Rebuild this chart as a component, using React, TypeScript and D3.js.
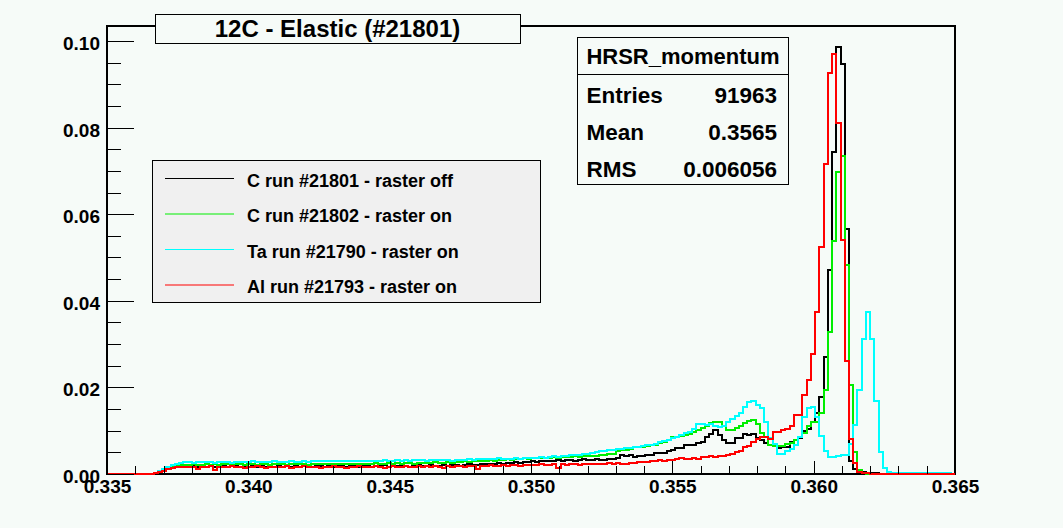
import { useEffect, useRef } from 'react';
import * as d3 from 'd3';

// HRSR momentum, 200 bins between 0.335 and 0.365
const xDomain = [0.335, 0.365];
const yDomain = [0, 0.10346];
const nBins = 200;

const xMajorTicks = [0.335, 0.34, 0.345, 0.35, 0.355, 0.36, 0.365];
const xTickLabels = ['0.335', '0.340', '0.345', '0.350', '0.355', '0.360', '0.365'];
const yMajorTicks = [0, 0.02, 0.04, 0.06, 0.08, 0.1];
const yTickLabels = ['0.00', '0.02', '0.04', '0.06', '0.08', '0.10'];

const legendLabels = [
  'C run #21801 - raster off',
  'C run #21802 - raster on',
  'Ta run #21790 - raster on',
  'Al run #21793 - raster on',
];

const statsTitle = 'HRSR_momentum';
const statsNames = ['Entries', 'Mean', 'RMS'];
const statsValues = ['91963', '0.3565', '0.006056'];

const cRun21801 = [
  0, 0, 0, 0, 0, 0, 0, 0, 0, 0, 0,
  0.0002, 0.0005, 0.0008, 0.0012, 0.0014, 0.0016, 0.0017, 0.0018,
  0.0017, 0.0018, 0.0016, 0.0018, 0.0017, 0.0019, 0.0017, 0.0016, 0.0018, 0.0017, 0.0019, 0.0018, 0.0016, 0.0018, 0.0017, 0.0018, 0.0016, 0.0019, 0.0017, 0.0018, 0.0017,
  0.0018, 0.0017, 0.0019, 0.0016, 0.0018, 0.0017, 0.0019, 0.0018, 0.0016, 0.0018, 0.0019, 0.0017, 0.0018, 0.0016, 0.0019, 0.0018, 0.0017, 0.0019, 0.0018, 0.0017,
  0.0019, 0.0018, 0.0017, 0.0019, 0.0018, 0.0020, 0.0017, 0.0019, 0.0018, 0.0020, 0.0019, 0.0017, 0.0019, 0.0020, 0.0018, 0.0019, 0.0021, 0.0018, 0.0019, 0.0020,
  0.0019, 0.0021, 0.0020, 0.0019, 0.0021, 0.0022, 0.0020, 0.0021, 0.0023, 0.0022, 0.0024, 0.0023, 0.0025, 0.0024, 0.0026, 0.0025, 0.0027, 0.0026, 0.0028, 0.0027,
  0.0029, 0.0028, 0.0030, 0.0029, 0.0031, 0.0030, 0.0032, 0.0031, 0.0033, 0.0032, 0.0031, 0.0033, 0.0034, 0.0032, 0.0033, 0.0035,
  0.0032, 0.0033, 0.0035, 0.0034, 0.0038, 0.0043, 0.0042, 0.0043, 0.0040, 0.0041, 0.0042, 0.0044, 0.0045, 0.0048, 0.0049, 0.0048, 0.0053, 0.0055, 0.0060, 0.0061, 0.0066, 0.0068, 0.0067, 0.0072,
  0.0074, 0.0085, 0.0092, 0.0102, 0.0089, 0.0078, 0.0072, 0.0071, 0.0084, 0.0082, 0.0092, 0.0090, 0.0092, 0.0084, 0.0079, 0.0071, 0.0067, 0.0067, 0.0061, 0.0062,
  0.0063, 0.0073, 0.0078, 0.0082, 0.0100, 0.0104, 0.0120, 0.0140, 0.0177, 0.0270, 0.0471, 0.0744, 0.0985, 0.0947, 0.0565, 0.0030, 0.0012, 0.0006, 0.0004, 0.0003,
  0.0002, 0.0002, 0.0001, 0.0001, 0.0001, 0.0001, 0.0001, 0, 0, 0, 0, 0, 0, 0, 0, 0, 0, 0, 0, 0,
];

const cRun21802 = [
  0, 0, 0, 0, 0, 0, 0, 0, 0, 0, 0,
  0.0002, 0.0005, 0.0009, 0.0013, 0.0016, 0.0019, 0.0020, 0.0021,
  0.0021, 0.0022, 0.0021, 0.0020, 0.0022, 0.0021, 0.0022, 0.0021, 0.0023, 0.0022, 0.0021, 0.0022, 0.0023, 0.0021, 0.0022, 0.0022, 0.0021, 0.0023, 0.0022, 0.0021, 0.0022,
  0.0023, 0.0022, 0.0021, 0.0023, 0.0022, 0.0022, 0.0023, 0.0021, 0.0023, 0.0022, 0.0024, 0.0022, 0.0023, 0.0022, 0.0024, 0.0023, 0.0022, 0.0024, 0.0023, 0.0024,
  0.0023, 0.0024, 0.0023, 0.0025, 0.0024, 0.0023, 0.0025, 0.0024, 0.0025, 0.0024, 0.0026, 0.0025, 0.0024, 0.0026, 0.0025, 0.0026, 0.0025, 0.0027, 0.0026, 0.0025,
  0.0027, 0.0026, 0.0028, 0.0027, 0.0029, 0.0028, 0.0030, 0.0029, 0.0031, 0.0030, 0.0032, 0.0031, 0.0033, 0.0032, 0.0034, 0.0033, 0.0035, 0.0034, 0.0036, 0.0035,
  0.0037, 0.0036, 0.0037, 0.0038, 0.0037, 0.0039, 0.0038, 0.0039, 0.0040, 0.0039, 0.0041, 0.0040, 0.0041, 0.0042, 0.0041, 0.0042, 0.0043, 0.0044, 0.0046, 0.0047,
  0.0052, 0.0055, 0.0056, 0.0058, 0.0062, 0.0062, 0.0063, 0.0065, 0.0066, 0.0068, 0.0072, 0.0074, 0.0078, 0.0085, 0.0086, 0.0088, 0.0090, 0.0093, 0.0096, 0.0102,
  0.0107, 0.0112, 0.0117, 0.0120, 0.0120, 0.0112, 0.0102, 0.0102, 0.0106, 0.0110, 0.0118, 0.0122, 0.0125, 0.0115, 0.0094, 0.0085, 0.0068, 0.0065, 0.0064, 0.0064,
  0.0069, 0.0072, 0.0078, 0.0085, 0.0094, 0.0110, 0.0120, 0.0121, 0.0140, 0.0195, 0.0329, 0.0538, 0.0698, 0.0734, 0.0483, 0.0206, 0.0050, 0.0009, 0.0002, 0.0001,
  0.0001, 0.0001, 0.0001, 0.0001, 0.0001, 0.0001, 0, 0, 0, 0, 0, 0, 0, 0, 0, 0, 0, 0, 0, 0,
];

const taRun21790 = [
  0, 0, 0, 0, 0, 0, 0, 0, 0, 0, 0,
  0.0003, 0.0007, 0.0011, 0.0016, 0.0020, 0.0023, 0.0025, 0.0027,
  0.0027, 0.0026, 0.0027, 0.0028, 0.0027, 0.0027, 0.0026, 0.0027, 0.0028, 0.0027, 0.0026, 0.0027, 0.0027, 0.0028, 0.0027, 0.0029, 0.0028, 0.0028, 0.0027, 0.0028, 0.0029,
  0.0028, 0.0027, 0.0028, 0.0029, 0.0028, 0.0028, 0.0029, 0.0028, 0.0029, 0.0030, 0.0029, 0.0029, 0.0030, 0.0029, 0.0030, 0.0029, 0.0030, 0.0031, 0.0030, 0.0030,
  0.0031, 0.0030, 0.0031, 0.0030, 0.0031, 0.0032, 0.0031, 0.0030, 0.0032, 0.0031, 0.0032, 0.0031, 0.0032, 0.0033, 0.0032, 0.0031, 0.0033, 0.0032, 0.0032, 0.0033,
  0.0032, 0.0031, 0.0033, 0.0032, 0.0033, 0.0034, 0.0033, 0.0034, 0.0035, 0.0034, 0.0035, 0.0034, 0.0036, 0.0035, 0.0034, 0.0035, 0.0036, 0.0035, 0.0036, 0.0037,
  0.0038, 0.0038, 0.0039, 0.0038, 0.0040, 0.0041, 0.0040, 0.0042, 0.0041, 0.0043, 0.0045, 0.0044, 0.0046, 0.0047, 0.0049, 0.0050, 0.0052, 0.0054, 0.0055, 0.0056,
  0.0057, 0.0058, 0.0060, 0.0059, 0.0062, 0.0063, 0.0064, 0.0066, 0.0068, 0.0070, 0.0073, 0.0076, 0.0079, 0.0083, 0.0086, 0.0090, 0.0094, 0.0098, 0.0105, 0.0115,
  0.0116, 0.0114, 0.0116, 0.0110, 0.0108, 0.0112, 0.0120, 0.0128, 0.0135, 0.0142, 0.0155, 0.0167, 0.0169, 0.0160, 0.0152, 0.0121, 0.0083, 0.0069, 0.0046, 0.0046,
  0.0052, 0.0058, 0.0067, 0.0085, 0.0132, 0.0152, 0.0154, 0.0132, 0.0088, 0.0052, 0.0040, 0.0040, 0.0041, 0.0043, 0.0045, 0.0069, 0.0113, 0.0194, 0.0311, 0.0373,
  0.0311, 0.0169, 0.0050, 0.0015, 0.0005, 0.0003, 0.0003, 0.0003, 0.0003, 0.0003, 0.0002, 0.0002, 0.0002, 0.0002, 0.0002, 0.0002, 0.0002, 0.0002, 0.0002, 0.0001,
];

const alRun21793 = [
  0, 0, 0, 0, 0, 0, 0, 0, 0, 0, 0,
  0.0002, 0.0004, 0.0008, 0.0011, 0.0014, 0.0016, 0.0017, 0.0017,
  0.0016, 0.0017, 0.0011, 0.0017, 0.0016, 0.0018, 0.0010, 0.0017, 0.0016, 0.0017, 0.0018, 0.0016, 0.0017, 0.0013, 0.0017, 0.0016, 0.0018, 0.0017, 0.0015, 0.0017, 0.0016,
  0.0017, 0.0016, 0.0018, 0.0014, 0.0017, 0.0016, 0.0018, 0.0017, 0.0016, 0.0017, 0.0015, 0.0017, 0.0016, 0.0018, 0.0016, 0.0017, 0.0013, 0.0017, 0.0016, 0.0018,
  0.0017, 0.0016, 0.0017, 0.0018, 0.0016, 0.0014, 0.0017, 0.0018, 0.0016, 0.0017, 0.0018, 0.0017, 0.0016, 0.0018, 0.0017, 0.0019, 0.0016, 0.0018, 0.0017, 0.0014,
  0.0018, 0.0017, 0.0019, 0.0018, 0.0016, 0.0019, 0.0018, 0.0012, 0.0019, 0.0018, 0.0020, 0.0019, 0.0018, 0.0020, 0.0019, 0.0021, 0.0020, 0.0019, 0.0021, 0.0020,
  0.0021, 0.0020, 0.0022, 0.0021, 0.0020, 0.0022, 0.0014, 0.0022, 0.0021, 0.0023, 0.0022, 0.0021, 0.0023, 0.0022, 0.0024, 0.0023, 0.0024, 0.0023, 0.0025, 0.0024,
  0.0025, 0.0024, 0.0023, 0.0025, 0.0026, 0.0027, 0.0028, 0.0027, 0.0029, 0.0031, 0.0032, 0.0031, 0.0033, 0.0032, 0.0034, 0.0036, 0.0035, 0.0034, 0.0036, 0.0035,
  0.0040, 0.0040, 0.0041, 0.0039, 0.0041, 0.0042, 0.0044, 0.0046, 0.0051, 0.0054, 0.0062, 0.0065, 0.0075, 0.0080, 0.0085, 0.0085, 0.0080, 0.0098, 0.0098, 0.0102,
  0.0103, 0.0111, 0.0136, 0.0137, 0.0182, 0.0217, 0.0277, 0.0375, 0.0525, 0.0715, 0.0927, 0.0969, 0.0811, 0.0540, 0.0260, 0.0080, 0.0025, 0.0005, 0.0002, 0.0002,
  0.0001, 0.0001, 0.0001, 0.0001, 0.0001, 0.0001, 0.0001, 0.0001, 0.0001, 0.0001, 0.0001, 0.0001, 0.0001, 0.0001, 0.0001, 0.0001, 0.0001, 0.0001, 0.0001, 0.0001,
];

// draw order = legend order
const hists = [cRun21801, cRun21802, taRun21790, alRun21793];
const histColors = ['#000000', '#00ee00', '#00ffff', '#ff0000'];

const W = 1063;
const H = 528;
const BG = '#f6fbf8';
const FONT = '"Liberation Sans", Arial, Helvetica, sans-serif';

const App = () => {
  const svgRef = useRef<SVGSVGElement>(null);

  useEffect(() => {
    const svg = d3.select(svgRef.current);
    svg.selectAll('*').remove();

    const frame = { left: 107, right: 955, top: 26, bottom: 474 };

    svg.append('rect').attr('width', W).attr('height', H).attr('fill', BG);

    const x = d3.scaleLinear().domain(xDomain).range([frame.left, frame.right]);
    const y = d3.scaleLinear().domain(yDomain).range([frame.bottom, frame.top]);

    // frame box
    svg.append('rect')
      .attr('x', frame.left).attr('y', frame.top)
      .attr('width', frame.right - frame.left).attr('height', frame.bottom - frame.top)
      .attr('fill', 'none').attr('stroke', '#000').attr('stroke-width', 2)
      .attr('shape-rendering', 'crispEdges');

    // histograms
    const binW = (xDomain[1] - xDomain[0]) / nBins;
    const edges = d3.range(nBins + 1).map(i => xDomain[0] + i * binW);
    const step = d3.line<[number, number]>()
      .x(d => x(d[0]))
      .y(d => y(d[1]))
      .curve(d3.curveStepAfter);

    hists.forEach((vals, k) => {
      const pts = edges.map((e, i) => [e, vals[Math.min(i, nBins - 1)]] as [number, number]);
      svg.append('path')
        .attr('d', step(pts))
        .attr('fill', 'none')
        .attr('stroke', histColors[k])
        .attr('stroke-width', 2)
        .attr('shape-rendering', 'crispEdges');
    });

    // x axis: minor ticks every 0.001, major every 0.005
    const xMinor = d3.range(31).map(i => xDomain[0] + i * 0.001)
      .filter(v => !xMajorTicks.some(m => Math.abs(m - v) < 1e-6));
    svg.append('g')
      .attr('transform', `translate(0,${frame.bottom})`)
      .call(d3.axisBottom(x).tickValues(xMinor).tickSize(-8).tickSizeOuter(0).tickFormat(() => ''))
      .call(g => g.select('.domain').remove());
    const xAxis = svg.append('g')
      .attr('transform', `translate(0,${frame.bottom})`)
      .call(d3.axisBottom(x).tickValues(xMajorTicks).tickSize(-13).tickSizeOuter(0)
        .tickFormat((_, i) => xTickLabels[i]))
      .call(g => g.select('.domain').remove());
    xAxis.selectAll('text')
      .attr('y', 19).attr('dy', null)
      .attr('font-family', FONT).attr('font-size', 19).attr('font-weight', 'bold').attr('fill', '#000');

    // y axis: minor every 0.005, major every 0.02
    const yMinor = d3.range(21).map(i => i * 0.005)
      .filter(v => !yMajorTicks.some(m => Math.abs(m - v) < 1e-6));
    svg.append('g')
      .attr('transform', `translate(${frame.left},0)`)
      .call(d3.axisLeft(y).tickValues(yMinor).tickSize(-14).tickSizeOuter(0).tickFormat(() => ''))
      .call(g => g.select('.domain').remove());
    const yAxis = svg.append('g')
      .attr('transform', `translate(${frame.left},0)`)
      .call(d3.axisLeft(y).tickValues(yMajorTicks).tickSize(-27).tickSizeOuter(0)
        .tickFormat((_, i) => yTickLabels[i]))
      .call(g => g.select('.domain').remove());
    yAxis.selectAll('text')
      .attr('x', -7).attr('y', 8.5).attr('dy', null)
      .attr('font-family', FONT).attr('font-size', 19).attr('font-weight', 'bold').attr('fill', '#000');

    svg.selectAll('.tick line').attr('stroke', '#000').attr('shape-rendering', 'crispEdges');

    // title box
    svg.append('rect')
      .attr('x', 155.5).attr('y', 14.5).attr('width', 365).attr('height', 29)
      .attr('fill', BG).attr('stroke', '#000').attr('stroke-width', 1);
    svg.append('text')
      .attr('x', 337.5).attr('y', 37)
      .attr('text-anchor', 'middle')
      .attr('font-family', FONT).attr('font-size', 24).attr('font-weight', 'bold')
      .text('12C - Elastic (#21801)');

    // legend
    svg.append('rect')
      .attr('x', 152.5).attr('y', 160.5).attr('width', 388).attr('height', 142)
      .attr('fill', '#f0f0f0').attr('stroke', '#000').attr('stroke-width', 1);
    legendLabels.forEach((lab, i) => {
      const cy = 178.5 + i * 35.5;
      svg.append('line')
        .attr('x1', 165).attr('x2', 234).attr('y1', cy).attr('y2', cy)
        .attr('stroke', histColors[i]).attr('stroke-width', 1);
      svg.append('text')
        .attr('x', 247).attr('y', cy + 8.3)
        .attr('font-family', FONT).attr('font-size', 18).attr('font-weight', 'bold')
        .text(lab);
    });

    // stats box
    svg.append('rect')
      .attr('x', 577.5).attr('y', 37.5).attr('width', 211).attr('height', 147)
      .attr('fill', BG).attr('stroke', '#000').attr('stroke-width', 1);
    svg.append('line')
      .attr('x1', 577.5).attr('x2', 788.5).attr('y1', 74.5).attr('y2', 74.5)
      .attr('stroke', '#000').attr('stroke-width', 1);
    svg.append('text')
      .attr('x', 683).attr('y', 64).attr('text-anchor', 'middle')
      .attr('font-family', FONT).attr('font-size', 22).attr('font-weight', 'bold')
      .text(statsTitle);
    const rowY = [102.7, 140, 176.7];
    statsNames.forEach((name, i) => {
      svg.append('text')
        .attr('x', 586.5).attr('y', rowY[i])
        .attr('font-family', FONT).attr('font-size', 22.5).attr('font-weight', 'bold')
        .text(name);
      svg.append('text')
        .attr('x', 777).attr('y', rowY[i]).attr('text-anchor', 'end')
        .attr('font-family', FONT).attr('font-size', 22.5).attr('font-weight', 'bold')
        .text(statsValues[i]);
    });
  }, []);

  return (
    <svg ref={svgRef} width={W} height={H}
      style={{ position: 'absolute', left: 0, top: 0, display: 'block' }} />
  );
};

export default App;
